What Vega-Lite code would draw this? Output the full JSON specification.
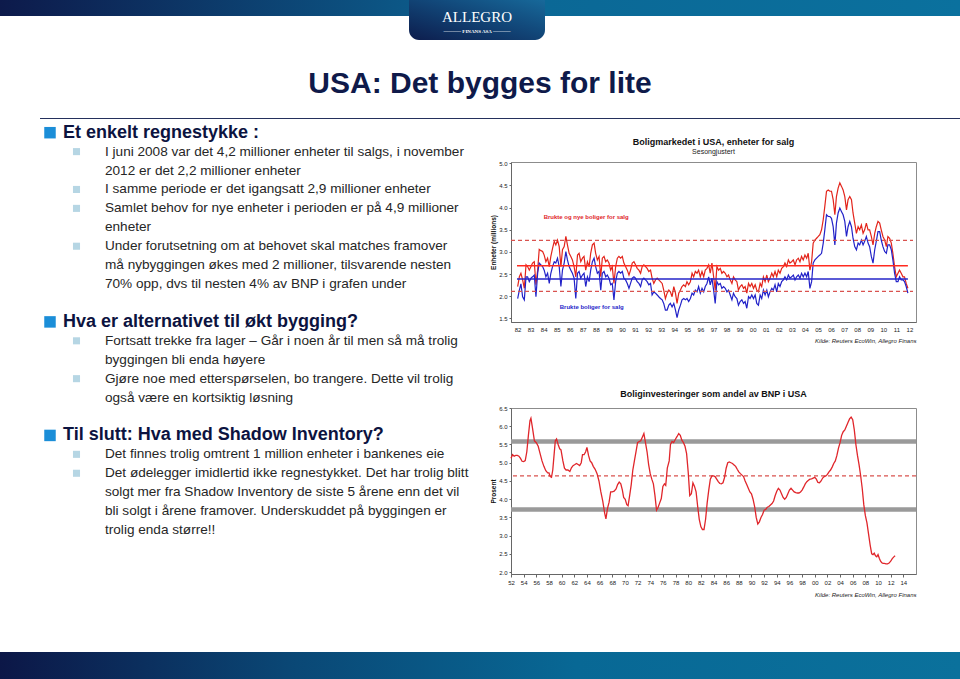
{
"$schema": "https://vega.github.io/schema/vega-lite/v6.json",
"background": "white",
"padding": 0,
"spacing": 0,
"bounds": "full",
"config": {"view": {"stroke": null}, "font": "Liberation Sans", "axis": {"labelOverlap": false}},
"datasets": {
"txt": [
{"line":1,"level":1,"bullet":true,"s":"Et enkelt regnestykke :"},
{"line":2,"level":2,"bullet":true,"s":"I juni 2008 var det 4,2 millioner enheter til salgs, i november"},
{"line":3,"level":2,"bullet":false,"s":"2012 er det 2,2 millioner enheter"},
{"line":4,"level":2,"bullet":true,"s":"I samme periode er det igangsatt 2,9 millioner enheter"},
{"line":5,"level":2,"bullet":true,"s":"Samlet behov for nye enheter i perioden er på 4,9 millioner"},
{"line":6,"level":2,"bullet":false,"s":"enheter"},
{"line":7,"level":2,"bullet":true,"s":"Under forutsetning om at behovet skal matches framover"},
{"line":8,"level":2,"bullet":false,"s":"må nybyggingen økes med 2 millioner, tilsvarende nesten"},
{"line":9,"level":2,"bullet":false,"s":"70% opp, dvs til nesten 4% av BNP i grafen under"},
{"line":11,"level":1,"bullet":true,"s":"Hva er alternativet til økt bygging?"},
{"line":12,"level":2,"bullet":true,"s":"Fortsatt trekke fra lager – Går i noen år til men så må trolig"},
{"line":13,"level":2,"bullet":false,"s":"byggingen bli enda høyere"},
{"line":14,"level":2,"bullet":true,"s":"Gjøre noe med etterspørselen, bo trangere. Dette vil trolig"},
{"line":15,"level":2,"bullet":false,"s":"også være en kortsiktig løsning"},
{"line":17,"level":1,"bullet":true,"s":"Til slutt: Hva med Shadow Inventory?"},
{"line":18,"level":2,"bullet":true,"s":"Det finnes trolig omtrent 1 million enheter i bankenes eie"},
{"line":19,"level":2,"bullet":true,"s":"Det ødelegger imidlertid ikke regnestykket. Det har trolig blitt"},
{"line":20,"level":2,"bullet":false,"s":"solgt mer fra Shadow Inventory de siste 5 årene enn det vil"},
{"line":21,"level":2,"bullet":false,"s":"bli solgt i årene framover. Underskuddet på byggingen er"},
{"line":22,"level":2,"bullet":false,"s":"trolig enda større!!"}
],
"inv": [
{"t":1982.51,"r":2.22,"b":1.95},{"t":1982.64,"r":2.44,"b":2.14},{"t":1982.76,"r":2.52,"b":2.28},{"t":1982.89,"r":2.37,"b":1.99},{"t":1983.02,"r":2.18,"b":1.92},{"t":1983.15,"r":2.71,"b":2.44},{"t":1983.27,"r":2.67,"b":2.44},{"t":1983.40,"r":2.59,"b":2.33},{"t":1983.53,"r":2.67,"b":2.41},{"t":1983.65,"r":2.75,"b":2.44},
{"t":1983.78,"r":2.78,"b":2.48},{"t":1983.91,"r":2.26,"b":1.99},{"t":1984.04,"r":2.59,"b":2.52},{"t":1984.16,"r":3.06,"b":2.75},{"t":1984.29,"r":3.03,"b":2.71},{"t":1984.42,"r":3.01,"b":2.67},{"t":1984.54,"r":2.93,"b":2.59},{"t":1984.67,"r":2.78,"b":2.44},{"t":1984.80,"r":2.86,"b":2.52},{"t":1984.93,"r":2.67,"b":2.29},
{"t":1985.05,"r":2.90,"b":2.52},{"t":1985.18,"r":3.08,"b":2.67},{"t":1985.31,"r":3.24,"b":2.78},{"t":1985.43,"r":3.16,"b":2.75},{"t":1985.56,"r":3.27,"b":2.86},{"t":1985.69,"r":3.12,"b":2.67},{"t":1985.82,"r":2.67,"b":2.22},{"t":1985.94,"r":3.05,"b":2.59},{"t":1986.07,"r":3.12,"b":2.75},{"t":1986.20,"r":3.35,"b":3.01},
{"t":1986.32,"r":3.16,"b":2.82},{"t":1986.45,"r":2.97,"b":2.67},{"t":1986.58,"r":2.90,"b":2.59},{"t":1986.70,"r":2.82,"b":2.52},{"t":1986.83,"r":2.67,"b":2.41},{"t":1986.96,"r":2.44,"b":1.95},{"t":1987.09,"r":2.93,"b":2.52},{"t":1987.21,"r":2.97,"b":2.56},{"t":1987.34,"r":2.78,"b":2.41},{"t":1987.47,"r":2.86,"b":2.48},
{"t":1987.59,"r":2.90,"b":2.52},{"t":1987.72,"r":2.59,"b":2.22},{"t":1987.85,"r":2.78,"b":2.44},{"t":1987.98,"r":2.67,"b":2.33},{"t":1988.10,"r":2.97,"b":2.59},{"t":1988.23,"r":3.16,"b":2.78},{"t":1988.36,"r":3.20,"b":2.86},{"t":1988.48,"r":2.97,"b":2.67},{"t":1988.61,"r":2.82,"b":2.52},{"t":1988.74,"r":2.90,"b":2.56},
{"t":1988.87,"r":2.44,"b":2.14},{"t":1988.99,"r":2.86,"b":2.52},{"t":1989.12,"r":2.90,"b":2.56},{"t":1989.25,"r":2.78,"b":2.44},{"t":1989.37,"r":2.82,"b":2.48},{"t":1989.50,"r":2.75,"b":2.41},{"t":1989.63,"r":2.59,"b":2.26},{"t":1989.75,"r":2.67,"b":2.29},{"t":1989.88,"r":2.29,"b":1.92},{"t":1990.01,"r":2.67,"b":2.33},
{"t":1990.14,"r":2.86,"b":2.52},{"t":1990.26,"r":2.90,"b":2.56},{"t":1990.39,"r":2.86,"b":2.52},{"t":1990.52,"r":2.90,"b":2.56},{"t":1990.64,"r":2.75,"b":2.41},{"t":1990.77,"r":2.67,"b":2.37},{"t":1990.90,"r":2.59,"b":2.29},{"t":1991.03,"r":2.48,"b":2.18},{"t":1991.15,"r":2.59,"b":2.29},{"t":1991.28,"r":2.75,"b":2.41},
{"t":1991.41,"r":2.78,"b":2.44},{"t":1991.53,"r":2.71,"b":2.41},{"t":1991.66,"r":2.63,"b":2.33},{"t":1991.79,"r":2.59,"b":2.29},{"t":1991.92,"r":2.52,"b":2.22},{"t":1992.04,"r":2.67,"b":2.37},{"t":1992.17,"r":2.71,"b":2.41},{"t":1992.30,"r":2.67,"b":2.37},{"t":1992.42,"r":2.63,"b":2.33},{"t":1992.55,"r":2.56,"b":2.26},
{"t":1992.68,"r":2.59,"b":2.29},{"t":1992.80,"r":2.41,"b":2.03},{"t":1992.93,"r":2.29,"b":2.10},{"t":1993.06,"r":2.37,"b":2.07},{"t":1993.19,"r":2.41,"b":2.03},{"t":1993.31,"r":2.37,"b":1.99},{"t":1993.44,"r":2.33,"b":1.95},{"t":1993.57,"r":2.29,"b":1.92},{"t":1993.69,"r":2.14,"b":1.84},{"t":1993.82,"r":1.95,"b":1.69},
{"t":1993.95,"r":2.07,"b":1.69},{"t":1994.08,"r":2.14,"b":1.80},{"t":1994.20,"r":2.10,"b":1.84},{"t":1994.33,"r":1.99,"b":1.76},{"t":1994.46,"r":2.22,"b":1.84},{"t":1994.59,"r":2.07,"b":1.69},{"t":1994.71,"r":1.84,"b":1.52},{"t":1994.84,"r":2.07,"b":1.69},{"t":1994.97,"r":2.14,"b":1.80},{"t":1995.09,"r":2.22,"b":1.92},
{"t":1995.22,"r":2.26,"b":1.95},{"t":1995.35,"r":2.22,"b":1.92},{"t":1995.47,"r":2.33,"b":1.95},{"t":1995.60,"r":2.26,"b":1.88},{"t":1995.73,"r":2.33,"b":1.95},{"t":1995.86,"r":2.52,"b":2.07},{"t":1995.98,"r":2.44,"b":2.03},{"t":1996.11,"r":2.56,"b":2.14},{"t":1996.24,"r":2.52,"b":2.10},{"t":1996.36,"r":2.59,"b":2.22},
{"t":1996.49,"r":2.44,"b":2.07},{"t":1996.62,"r":2.56,"b":2.18},{"t":1996.75,"r":2.44,"b":2.10},{"t":1996.87,"r":2.59,"b":2.22},{"t":1997.00,"r":2.63,"b":2.29},{"t":1997.13,"r":2.71,"b":2.44},{"t":1997.25,"r":2.52,"b":2.26},{"t":1997.38,"r":2.75,"b":2.41},{"t":1997.51,"r":2.44,"b":2.14},{"t":1997.63,"r":2.14,"b":1.84},
{"t":1997.76,"r":2.67,"b":2.33},{"t":1997.89,"r":2.59,"b":2.26},{"t":1998.02,"r":2.63,"b":2.29},{"t":1998.14,"r":2.52,"b":2.18},{"t":1998.27,"r":2.56,"b":2.22},{"t":1998.40,"r":2.52,"b":2.18},{"t":1998.53,"r":2.44,"b":2.10},{"t":1998.65,"r":2.48,"b":2.14},{"t":1998.78,"r":2.37,"b":2.03},{"t":1998.91,"r":2.29,"b":1.92},
{"t":1999.03,"r":2.44,"b":2.07},{"t":1999.16,"r":2.37,"b":1.99},{"t":1999.29,"r":2.33,"b":1.95},{"t":1999.41,"r":2.14,"b":1.80},{"t":1999.54,"r":2.22,"b":1.88},{"t":1999.67,"r":2.26,"b":1.92},{"t":1999.80,"r":2.18,"b":1.84},{"t":1999.92,"r":2.22,"b":1.88},{"t":2000.05,"r":2.07,"b":1.73},{"t":2000.18,"r":2.29,"b":1.99},
{"t":2000.30,"r":2.22,"b":1.95},{"t":2000.43,"r":2.29,"b":2.03},{"t":2000.56,"r":2.18,"b":1.95},{"t":2000.69,"r":2.26,"b":2.03},{"t":2000.81,"r":2.14,"b":1.84},{"t":2000.94,"r":2.10,"b":1.80},{"t":2001.07,"r":2.29,"b":2.03},{"t":2001.19,"r":2.22,"b":1.95},{"t":2001.32,"r":2.44,"b":2.14},{"t":2001.45,"r":2.33,"b":2.03},
{"t":2001.58,"r":2.48,"b":2.14},{"t":2001.70,"r":2.33,"b":1.99},{"t":2001.83,"r":2.41,"b":2.10},{"t":2001.96,"r":2.52,"b":2.18},{"t":2002.08,"r":2.44,"b":2.14},{"t":2002.21,"r":2.56,"b":2.26},{"t":2002.34,"r":2.44,"b":2.10},{"t":2002.46,"r":2.59,"b":2.29},{"t":2002.59,"r":2.52,"b":2.22},{"t":2002.72,"r":2.63,"b":2.33},
{"t":2002.85,"r":2.67,"b":2.37},{"t":2002.97,"r":2.75,"b":2.44},{"t":2003.10,"r":2.67,"b":2.37},{"t":2003.23,"r":2.82,"b":2.48},{"t":2003.35,"r":2.75,"b":2.41},{"t":2003.48,"r":2.78,"b":2.44},{"t":2003.61,"r":2.82,"b":2.48},{"t":2003.74,"r":2.71,"b":2.37},{"t":2003.86,"r":2.82,"b":2.44},{"t":2003.99,"r":2.86,"b":2.48},
{"t":2004.12,"r":2.78,"b":2.41},{"t":2004.24,"r":2.90,"b":2.52},{"t":2004.37,"r":2.82,"b":2.44},{"t":2004.50,"r":2.93,"b":2.52},{"t":2004.63,"r":2.86,"b":2.44},{"t":2004.75,"r":2.97,"b":2.56},{"t":2004.88,"r":2.59,"b":2.18},{"t":2005.01,"r":2.78,"b":2.33},{"t":2005.13,"r":3.20,"b":2.75},{"t":2005.26,"r":3.27,"b":2.82},
{"t":2005.39,"r":3.31,"b":2.86},{"t":2005.52,"r":3.35,"b":2.90},{"t":2005.64,"r":3.39,"b":2.93},{"t":2005.77,"r":3.50,"b":2.97},{"t":2005.90,"r":3.73,"b":3.20},{"t":2006.02,"r":4.03,"b":3.50},{"t":2006.15,"r":4.37,"b":3.84},{"t":2006.28,"r":4.40,"b":3.80},{"t":2006.41,"r":4.37,"b":3.80},{"t":2006.53,"r":4.37,"b":3.76},
{"t":2006.66,"r":4.18,"b":3.57},{"t":2006.79,"r":3.84,"b":3.16},{"t":2006.91,"r":4.25,"b":3.65},{"t":2007.04,"r":4.44,"b":3.88},{"t":2007.17,"r":4.56,"b":3.99},{"t":2007.30,"r":4.48,"b":3.91},{"t":2007.42,"r":4.40,"b":3.84},{"t":2007.55,"r":4.25,"b":3.69},{"t":2007.68,"r":3.95,"b":3.35},{"t":2007.80,"r":4.18,"b":3.57},
{"t":2007.93,"r":4.25,"b":3.69},{"t":2008.06,"r":4.18,"b":3.57},{"t":2008.18,"r":3.88,"b":3.31},{"t":2008.31,"r":3.65,"b":3.12},{"t":2008.44,"r":3.42,"b":3.05},{"t":2008.57,"r":3.57,"b":3.20},{"t":2008.69,"r":3.50,"b":3.16},{"t":2008.82,"r":3.61,"b":3.27},{"t":2008.95,"r":3.42,"b":3.16},{"t":2009.07,"r":3.50,"b":3.24},
{"t":2009.20,"r":3.65,"b":3.35},{"t":2009.33,"r":3.50,"b":3.20},{"t":2009.45,"r":3.50,"b":3.12},{"t":2009.58,"r":3.35,"b":2.90},{"t":2009.71,"r":3.16,"b":2.75},{"t":2009.84,"r":3.42,"b":3.05},{"t":2009.96,"r":3.57,"b":3.24},{"t":2010.09,"r":3.69,"b":3.46},{"t":2010.22,"r":3.65,"b":3.46},{"t":2010.34,"r":3.50,"b":3.27},
{"t":2010.47,"r":3.35,"b":3.12},{"t":2010.60,"r":3.27,"b":3.01},{"t":2010.73,"r":3.12,"b":2.97},{"t":2010.85,"r":3.35,"b":3.16},{"t":2010.98,"r":3.31,"b":3.16},{"t":2011.11,"r":3.20,"b":3.05},{"t":2011.23,"r":2.97,"b":2.82},{"t":2011.36,"r":2.67,"b":2.52},{"t":2011.49,"r":2.44,"b":2.33},{"t":2011.62,"r":2.52,"b":2.33},
{"t":2011.74,"r":2.59,"b":2.44},{"t":2011.87,"r":2.52,"b":2.37},{"t":2012.00,"r":2.44,"b":2.37},{"t":2012.12,"r":2.44,"b":2.33},{"t":2012.25,"r":2.29,"b":2.22},{"t":2012.38,"r":2.18,"b":2.07}
],
"bnp": [
{"t":1952.0,"v":5.12},{"t":1952.25,"v":5.22},{"t":1952.5,"v":5.18},{"t":1952.75,"v":5.2},{"t":1953.0,"v":5.2},{"t":1953.25,"v":5.18},{"t":1953.5,"v":5.12},{"t":1953.75,"v":5.04},{"t":1954.0,"v":5.03},{"t":1954.25,"v":5.06},{"t":1954.5,"v":5.3},{"t":1954.75,"v":5.75},{"t":1955.0,"v":6.15},{"t":1955.15,"v":6.22},{"t":1955.4,"v":5.95},{"t":1955.7,"v":5.6},{"t":1956.0,"v":5.55},{"t":1956.3,"v":5.45},{"t":1956.6,"v":5.25},{"t":1956.9,"v":5.05},{"t":1957.2,"v":4.9},{"t":1957.5,"v":4.78},{"t":1957.8,"v":4.72},{"t":1958.0,"v":4.72},{"t":1958.2,"v":4.62},{"t":1958.4,"v":4.6},{"t":1958.6,"v":4.8},{"t":1958.8,"v":5.2},{"t":1959.0,"v":5.6},{"t":1959.2,"v":5.65},{"t":1959.45,"v":5.5},{"t":1959.7,"v":5.38},{"t":1959.9,"v":5.35},{"t":1960.2,"v":5.05},{"t":1960.45,"v":4.85},{"t":1960.7,"v":4.8},{"t":1961.0,"v":4.8},{"t":1961.3,"v":4.76},{"t":1961.55,"v":4.86},{"t":1961.8,"v":4.92},{"t":1962.1,"v":4.95},{"t":1962.35,"v":4.98},{"t":1962.6,"v":4.95},{"t":1962.85,"v":4.92},{"t":1963.1,"v":5.0},{"t":1963.3,"v":5.22},{"t":1963.55,"v":5.22},{"t":1963.8,"v":5.3},{"t":1964.0,"v":5.42},{"t":1964.25,"v":5.2},{"t":1964.5,"v":5.05},{"t":1964.75,"v":5.0},{"t":1965.0,"v":4.9},{"t":1965.3,"v":4.82},{"t":1965.6,"v":4.7},{"t":1965.9,"v":4.5},{"t":1966.2,"v":4.2},{"t":1966.5,"v":3.95},{"t":1966.8,"v":3.62},{"t":1967.0,"v":3.46},{"t":1967.25,"v":3.75},{"t":1967.5,"v":3.92},{"t":1967.75,"v":4.2},{"t":1968.0,"v":4.2},{"t":1968.3,"v":4.22},{"t":1968.6,"v":4.28},{"t":1968.85,"v":4.4},{"t":1969.1,"v":4.47},{"t":1969.35,"v":4.42},{"t":1969.6,"v":4.25},{"t":1969.8,"v":4.05},{"t":1970.05,"v":4.0},{"t":1970.3,"v":3.85},{"t":1970.5,"v":3.82},{"t":1970.75,"v":4.1},{"t":1971.0,"v":4.4},{"t":1971.25,"v":4.8},{"t":1971.5,"v":5.05},{"t":1971.75,"v":5.3},{"t":1972.0,"v":5.55},{"t":1972.25,"v":5.58},{"t":1972.5,"v":5.6},{"t":1972.75,"v":5.7},{"t":1973.0,"v":5.8},{"t":1973.25,"v":5.55},{"t":1973.5,"v":5.3},{"t":1973.75,"v":4.95},{"t":1974.0,"v":4.7},{"t":1974.25,"v":4.55},{"t":1974.5,"v":4.42},{"t":1974.75,"v":4.1},{"t":1975.0,"v":3.7},{"t":1975.25,"v":3.78},{"t":1975.5,"v":3.9},{"t":1975.75,"v":4.02},{"t":1976.0,"v":4.35},{"t":1976.25,"v":4.42},{"t":1976.45,"v":4.38},{"t":1976.7,"v":4.85},{"t":1977.0,"v":5.05},{"t":1977.2,"v":5.5},{"t":1977.45,"v":5.58},{"t":1977.7,"v":5.55},{"t":1978.0,"v":5.65},{"t":1978.25,"v":5.72},{"t":1978.5,"v":5.8},{"t":1978.75,"v":5.75},{"t":1979.0,"v":5.62},{"t":1979.25,"v":5.55},{"t":1979.5,"v":5.45},{"t":1979.75,"v":5.25},{"t":1980.0,"v":4.75},{"t":1980.25,"v":4.1},{"t":1980.5,"v":4.15},{"t":1980.75,"v":4.45},{"t":1981.0,"v":4.35},{"t":1981.25,"v":4.2},{"t":1981.5,"v":3.8},{"t":1981.75,"v":3.45},{"t":1982.0,"v":3.25},{"t":1982.25,"v":3.17},{"t":1982.5,"v":3.17},{"t":1982.75,"v":3.45},{"t":1983.0,"v":3.9},{"t":1983.25,"v":4.25},{"t":1983.5,"v":4.55},{"t":1983.75,"v":4.64},{"t":1984.0,"v":4.64},{"t":1984.25,"v":4.62},{"t":1984.5,"v":4.55},{"t":1984.75,"v":4.48},{"t":1985.0,"v":4.43},{"t":1985.25,"v":4.42},{"t":1985.5,"v":4.45},{"t":1985.75,"v":4.6},{"t":1986.0,"v":4.85},{"t":1986.25,"v":5.0},{"t":1986.5,"v":5.02},{"t":1986.75,"v":5.0},{"t":1987.0,"v":4.98},{"t":1987.25,"v":4.94},{"t":1987.5,"v":4.9},{"t":1987.75,"v":4.82},{"t":1988.0,"v":4.75},{"t":1988.25,"v":4.7},{"t":1988.5,"v":4.66},{"t":1988.75,"v":4.62},{"t":1989.0,"v":4.5},{"t":1989.25,"v":4.4},{"t":1989.5,"v":4.3},{"t":1989.75,"v":4.2},{"t":1990.0,"v":4.15},{"t":1990.25,"v":4.0},{"t":1990.5,"v":3.8},{"t":1990.75,"v":3.5},{"t":1991.0,"v":3.32},{"t":1991.25,"v":3.38},{"t":1991.5,"v":3.5},{"t":1991.75,"v":3.58},{"t":1992.0,"v":3.7},{"t":1992.25,"v":3.72},{"t":1992.5,"v":3.78},{"t":1992.75,"v":3.8},{"t":1993.0,"v":3.84},{"t":1993.25,"v":3.88},{"t":1993.5,"v":3.95},{"t":1993.75,"v":4.1},{"t":1994.0,"v":4.22},{"t":1994.25,"v":4.3},{"t":1994.5,"v":4.25},{"t":1994.75,"v":4.15},{"t":1995.0,"v":4.05},{"t":1995.25,"v":4.0},{"t":1995.5,"v":4.05},{"t":1995.75,"v":4.15},{"t":1996.0,"v":4.25},{"t":1996.25,"v":4.3},{"t":1996.5,"v":4.25},{"t":1996.75,"v":4.2},{"t":1997.0,"v":4.18},{"t":1997.25,"v":4.17},{"t":1997.5,"v":4.17},{"t":1997.75,"v":4.2},{"t":1998.0,"v":4.25},{"t":1998.25,"v":4.33},{"t":1998.5,"v":4.42},{"t":1998.75,"v":4.48},{"t":1999.0,"v":4.52},{"t":1999.25,"v":4.55},{"t":1999.5,"v":4.56},{"t":1999.75,"v":4.58},{"t":2000.0,"v":4.6},{"t":2000.25,"v":4.55},{"t":2000.5,"v":4.46},{"t":2000.75,"v":4.45},{"t":2001.0,"v":4.5},{"t":2001.25,"v":4.58},{"t":2001.5,"v":4.62},{"t":2001.75,"v":4.64},{"t":2002.0,"v":4.68},{"t":2002.25,"v":4.75},{"t":2002.5,"v":4.8},{"t":2002.75,"v":4.88},{"t":2003.0,"v":4.98},{"t":2003.25,"v":5.05},{"t":2003.5,"v":5.2},{"t":2003.75,"v":5.4},{"t":2004.0,"v":5.55},{"t":2004.25,"v":5.75},{"t":2004.5,"v":5.85},{"t":2004.75,"v":5.9},{"t":2005.0,"v":6.0},{"t":2005.25,"v":6.1},{"t":2005.5,"v":6.2},{"t":2005.75,"v":6.25},{"t":2006.0,"v":6.18},{"t":2006.25,"v":5.9},{"t":2006.5,"v":5.5},{"t":2006.75,"v":5.2},{"t":2007.0,"v":4.95},{"t":2007.25,"v":4.65},{"t":2007.5,"v":4.3},{"t":2007.75,"v":3.85},{"t":2008.0,"v":3.55},{"t":2008.25,"v":3.35},{"t":2008.5,"v":3.05},{"t":2008.75,"v":2.75},{"t":2009.0,"v":2.5},{"t":2009.2,"v":2.48},{"t":2009.4,"v":2.52},{"t":2009.6,"v":2.45},{"t":2009.8,"v":2.42},{"t":2010.0,"v":2.48},{"t":2010.2,"v":2.38},{"t":2010.4,"v":2.3},{"t":2010.6,"v":2.26},{"t":2010.8,"v":2.24},{"t":2011.0,"v":2.24},{"t":2011.25,"v":2.23},{"t":2011.5,"v":2.23},{"t":2011.75,"v":2.25},{"t":2012.0,"v":2.3},{"t":2012.25,"v":2.37},{"t":2012.5,"v":2.42},{"t":2012.7,"v":2.45}
]
},
"vconcat": [
{"hconcat": [
  {"width": 409, "height": 16, "data": {"values": [{}]}, "mark": {"type": "rect", "fill": {"gradient": "linear", "x1": 0, "y1": 0, "x2": 1, "y2": 0, "stops": [{"offset": 0, "color": "#0d1a4b"}, {"offset": 1, "color": "#0c5887"}]}}, "encoding": {}},
  {"width": 136, "height": 40, "data": {"values": [{"a": "ALLEGRO", "f": "───── FINANS ASA ─────"}]}, "layer": [
    {"mark": {"type": "rect", "cornerRadiusBottomLeft": 10, "cornerRadiusBottomRight": 10, "fill": {"gradient": "linear", "x1": 0, "y1": 1, "x2": 1, "y2": 0, "stops": [{"offset": 0, "color": "#0d1d4d"}, {"offset": 0.6, "color": "#124a7c"}, {"offset": 1, "color": "#17699a"}]}}, "encoding": {}},
    {"mark": {"type": "text", "font": "Liberation Serif", "fontSize": 15, "color": "white", "baseline": "middle", "dy": -3}, "encoding": {"text": {"field": "a"}}},
    {"mark": {"type": "text", "font": "Liberation Serif", "fontSize": 5, "fontWeight": "bold", "color": "white", "baseline": "middle", "dy": 11}, "encoding": {"text": {"field": "f"}}}
  ]},
  {"width": 415, "height": 16, "data": {"values": [{}]}, "mark": {"type": "rect", "fill": {"gradient": "linear", "x1": 0, "y1": 0, "x2": 1, "y2": 0, "stops": [{"offset": 0, "color": "#0b6896"}, {"offset": 1, "color": "#0b719e"}]}}, "encoding": {}}
], "spacing": 0, "bounds": "flush"},
{"width": 960, "height": 78, "data": {"values": [{"t": "USA: Det bygges for lite"}]}, "mark": {"type": "text", "fontSize": 30, "fontWeight": "bold", "color": "#0f1a4a", "baseline": "alphabetic", "dy": 14}, "encoding": {"text": {"field": "t"}}},
{"hconcat": [
  {"width": 40, "height": 1, "data": {"values": [{}]}, "mark": {"type": "rect", "opacity": 0}, "encoding": {}},
  {"width": 920, "height": 1, "data": {"values": [{}]}, "mark": {"type": "rect", "fill": "#24305c"}, "encoding": {}}
], "spacing": 0, "bounds": "flush"},
{"hconcat": [
  {"width": 490, "height": 533, "data": {"name": "txt"},
   "encoding": {
     "x": {"field": "level", "type": "quantitative", "scale": {"domain": [-0.5, 11.167], "nice": false, "zero": false}, "axis": null},
     "y": {"field": "line", "type": "quantitative", "scale": {"domain": [0.276, 28.447], "nice": false, "zero": false, "reverse": true}, "axis": null}
   },
   "layer": [
     {"transform": [{"filter": "datum.level == 1 && datum.bullet"}], "mark": {"type": "point", "shape": "square", "filled": true, "opacity": 1, "size": 132, "color": "#1b8ed8", "xOffset": -13}},
     {"transform": [{"filter": "datum.level == 2 && datum.bullet"}], "mark": {"type": "point", "shape": "square", "filled": true, "opacity": 1, "size": 50, "color": "#b6d6e4", "xOffset": -28.5}},
     {"transform": [{"filter": "datum.level == 1"}], "mark": {"type": "text", "align": "left", "baseline": "middle", "fontSize": 18, "fontWeight": "bold", "color": "#0c1340"}, "encoding": {"text": {"field": "s"}}},
     {"transform": [{"filter": "datum.level == 2"}], "mark": {"type": "text", "align": "left", "baseline": "middle", "fontSize": 13.6, "color": "#262626"}, "encoding": {"text": {"field": "s"}}}
   ]
  },
  {"vconcat": [
    {"width": 405, "height": 43, "data": {"values": [{}]}, "mark": {"type": "rect", "opacity": 0}, "encoding": {}},
    {"width": 405, "height": 160,
     "view": {"stroke": "#8c8c8c"},
     "title": {"text": "Boligmarkedet i USA, enheter for salg", "subtitle": "Sesongjustert", "fontSize": 9, "fontWeight": "bold", "color": "#111111", "subtitleFontSize": 7, "subtitleColor": "#222222", "subtitlePadding": 1.5, "offset": 5, "anchor": "middle", "frame": "group"},
     "resolve": {"axis": {"x": "independent", "y": "independent"}},
     "layer": [
       {"data": {"name": "inv"}, "mark": {"type": "line", "color": "#e3241b", "strokeWidth": 1.2},
        "encoding": {
          "x": {"field": "t", "type": "quantitative", "scale": {"domain": [1982, 2013], "nice": false, "zero": false},
                "axis": {"values": [1982.5,1983.5,1984.5,1985.5,1986.5,1987.5,1988.5,1989.5,1990.5,1991.5,1992.5,1993.5,1994.5,1995.5,1996.5,1997.5,1998.5,1999.5,2000.5,2001.5,2002.5,2003.5,2004.5,2005.5,2006.5,2007.5,2008.5,2009.5,2010.5,2011.5,2012.5],
                         "labelExpr": "slice('0' + (floor(datum.value) % 100), -2)", "ticks": false, "grid": false, "domainColor": "#666666", "labelFontSize": 6, "labelColor": "#222222", "labelPadding": 4, "labelFlush": false, "labelOverlap": false,
                         "title": "Kilde: Reuters EcoWin, Allegro Finans", "titleFontSize": 6, "titleFontStyle": "italic", "titleFontWeight": "normal", "titleAnchor": "end", "titlePadding": 5, "titleColor": "#222222"}},
          "y": {"field": "r", "type": "quantitative", "scale": {"domain": [1.42, 5.03], "nice": false, "zero": false},
                "axis": {"values": [1.5,2,2.5,3,3.5,4,4.5,5], "format": ".1f", "grid": false, "tickSize": 2, "tickColor": "#666666", "domainColor": "#666666", "labelFontSize": 6, "labelColor": "#222222", "labelPadding": 2, "labelOverlap": false,
                         "title": "Enheter (millions)", "titleFontSize": 6.5, "titleFontWeight": "bold", "titlePadding": 2, "titleColor": "#111111"}}
        }},
       {"data": {"name": "inv"}, "mark": {"type": "line", "color": "#2222c8", "strokeWidth": 1.2},
        "encoding": {"x": {"field": "t", "type": "quantitative", "axis": null}, "y": {"field": "b", "type": "quantitative", "axis": null}}},
       {"data": {"values": [{"v": 3.26, "a": 1982, "b": 2012.77}, {"v": 2.11, "a": 1982, "b": 2012.77}]}, "mark": {"type": "rule", "color": "#d9534f", "strokeDash": [4, 3], "strokeWidth": 1.2},
        "encoding": {"y": {"field": "v", "type": "quantitative", "axis": null}, "x": {"field": "a", "type": "quantitative", "axis": null}, "x2": {"field": "b"}}},
       {"data": {"values": [{"v": 2.69, "a": 1982.46, "b": 2012.38}]}, "mark": {"type": "rule", "stroke": "#ff2a1f", "strokeWidth": 1.5},
        "encoding": {"y": {"field": "v", "type": "quantitative", "axis": null}, "x": {"field": "a", "type": "quantitative", "axis": null}, "x2": {"field": "b"}}},
       {"data": {"values": [{"v": 2.39, "a": 1982.46, "b": 2012.38}]}, "mark": {"type": "rule", "stroke": "#2525c9", "strokeWidth": 1.4},
        "encoding": {"y": {"field": "v", "type": "quantitative", "axis": null}, "x": {"field": "a", "type": "quantitative", "axis": null}, "x2": {"field": "b"}}},
       {"data": {"values": [{"t": 1984.5, "v": 3.78, "s": "Brukte og nye boliger for salg"}]}, "mark": {"type": "text", "align": "left", "baseline": "middle", "fontSize": 6, "fontWeight": "bold", "color": "#e0262b"},
        "encoding": {"x": {"field": "t", "type": "quantitative", "axis": null}, "y": {"field": "v", "type": "quantitative", "axis": null}, "text": {"field": "s"}}},
       {"data": {"values": [{"t": 1985.73, "v": 1.75, "s": "Brukte boliger for salg"}]}, "mark": {"type": "text", "align": "left", "baseline": "middle", "fontSize": 6, "fontWeight": "bold", "color": "#2727c9"},
        "encoding": {"x": {"field": "t", "type": "quantitative", "axis": null}, "y": {"field": "v", "type": "quantitative", "axis": null}, "text": {"field": "s"}}}
     ]},
    {"width": 405, "height": 86, "data": {"values": [{}]}, "mark": {"type": "rect", "opacity": 0}, "encoding": {}},
    {"width": 405, "height": 166,
     "view": {"stroke": "#8c8c8c"},
     "title": {"text": "Boliginvesteringer som andel av BNP i USA", "fontSize": 9, "fontWeight": "bold", "color": "#111111", "offset": 6.5, "anchor": "middle", "frame": "group"},
     "resolve": {"axis": {"x": "independent", "y": "independent"}},
     "layer": [
       {"data": {"values": [{"v": 5.58}, {"v": 3.72}]}, "mark": {"type": "rule", "color": "#9a9a9a", "strokeWidth": 4.5},
        "encoding": {"y": {"field": "v", "type": "quantitative", "scale": {"domain": [1.95, 6.5], "nice": false, "zero": false},
                "axis": {"values": [2,2.5,3,3.5,4,4.5,5,5.5,6,6.5], "format": ".1f", "grid": false, "tickSize": 2, "tickColor": "#666666", "domainColor": "#666666", "labelFontSize": 6, "labelColor": "#222222", "labelPadding": 2, "labelOverlap": false,
                         "title": "Prosent", "titleFontSize": 6.5, "titleFontWeight": "bold", "titlePadding": 2, "titleColor": "#111111"}}}},
       {"data": {"values": [{"v": 4.64}]}, "mark": {"type": "rule", "color": "#d9534f", "strokeDash": [4, 3], "strokeWidth": 1.1},
        "encoding": {"y": {"field": "v", "type": "quantitative", "axis": null}}},
       {"data": {"name": "bnp"}, "mark": {"type": "line", "color": "#e0262b", "strokeWidth": 1.3},
        "encoding": {
          "x": {"field": "t", "type": "quantitative", "scale": {"domain": [1952, 2016], "nice": false, "zero": false},
                "axis": {"values": [1952,1954,1956,1958,1960,1962,1964,1966,1968,1970,1972,1974,1976,1978,1980,1982,1984,1986,1988,1990,1992,1994,1996,1998,2000,2002,2004,2006,2008,2010,2012,2014],
                         "labelExpr": "slice('0' + (datum.value % 100), -2)", "ticks": true, "tickSize": 3, "tickColor": "#666666", "grid": false, "domainColor": "#666666", "labelFontSize": 6, "labelColor": "#222222", "labelPadding": 2, "labelFlush": false, "labelOverlap": false,
                         "title": "Kilde: Reuters EcoWin, Allegro Finans", "titleFontSize": 6, "titleFontStyle": "italic", "titleFontWeight": "normal", "titleAnchor": "end", "titlePadding": 6, "titleColor": "#222222"}},
          "y": {"field": "v", "type": "quantitative", "axis": null}
        }}
     ]},
    {"width": 405, "height": 78, "data": {"values": [{}]}, "mark": {"type": "rect", "opacity": 0}, "encoding": {}}
  ], "spacing": 0, "bounds": "flush"},
  {"width": 44, "height": 533, "data": {"values": [{}]}, "mark": {"type": "rect", "opacity": 0}, "encoding": {}}
], "spacing": 0, "bounds": "full"},
{"width": 960, "height": 27, "data": {"values": [{}]}, "mark": {"type": "rect", "fill": {"gradient": "linear", "x1": 0, "y1": 0, "x2": 1, "y2": 0, "stops": [{"offset": 0, "color": "#0c1747"}, {"offset": 0.3, "color": "#0a4775"}, {"offset": 0.6, "color": "#086895"}, {"offset": 1, "color": "#0b719c"}]}}, "encoding": {}}
]
}
